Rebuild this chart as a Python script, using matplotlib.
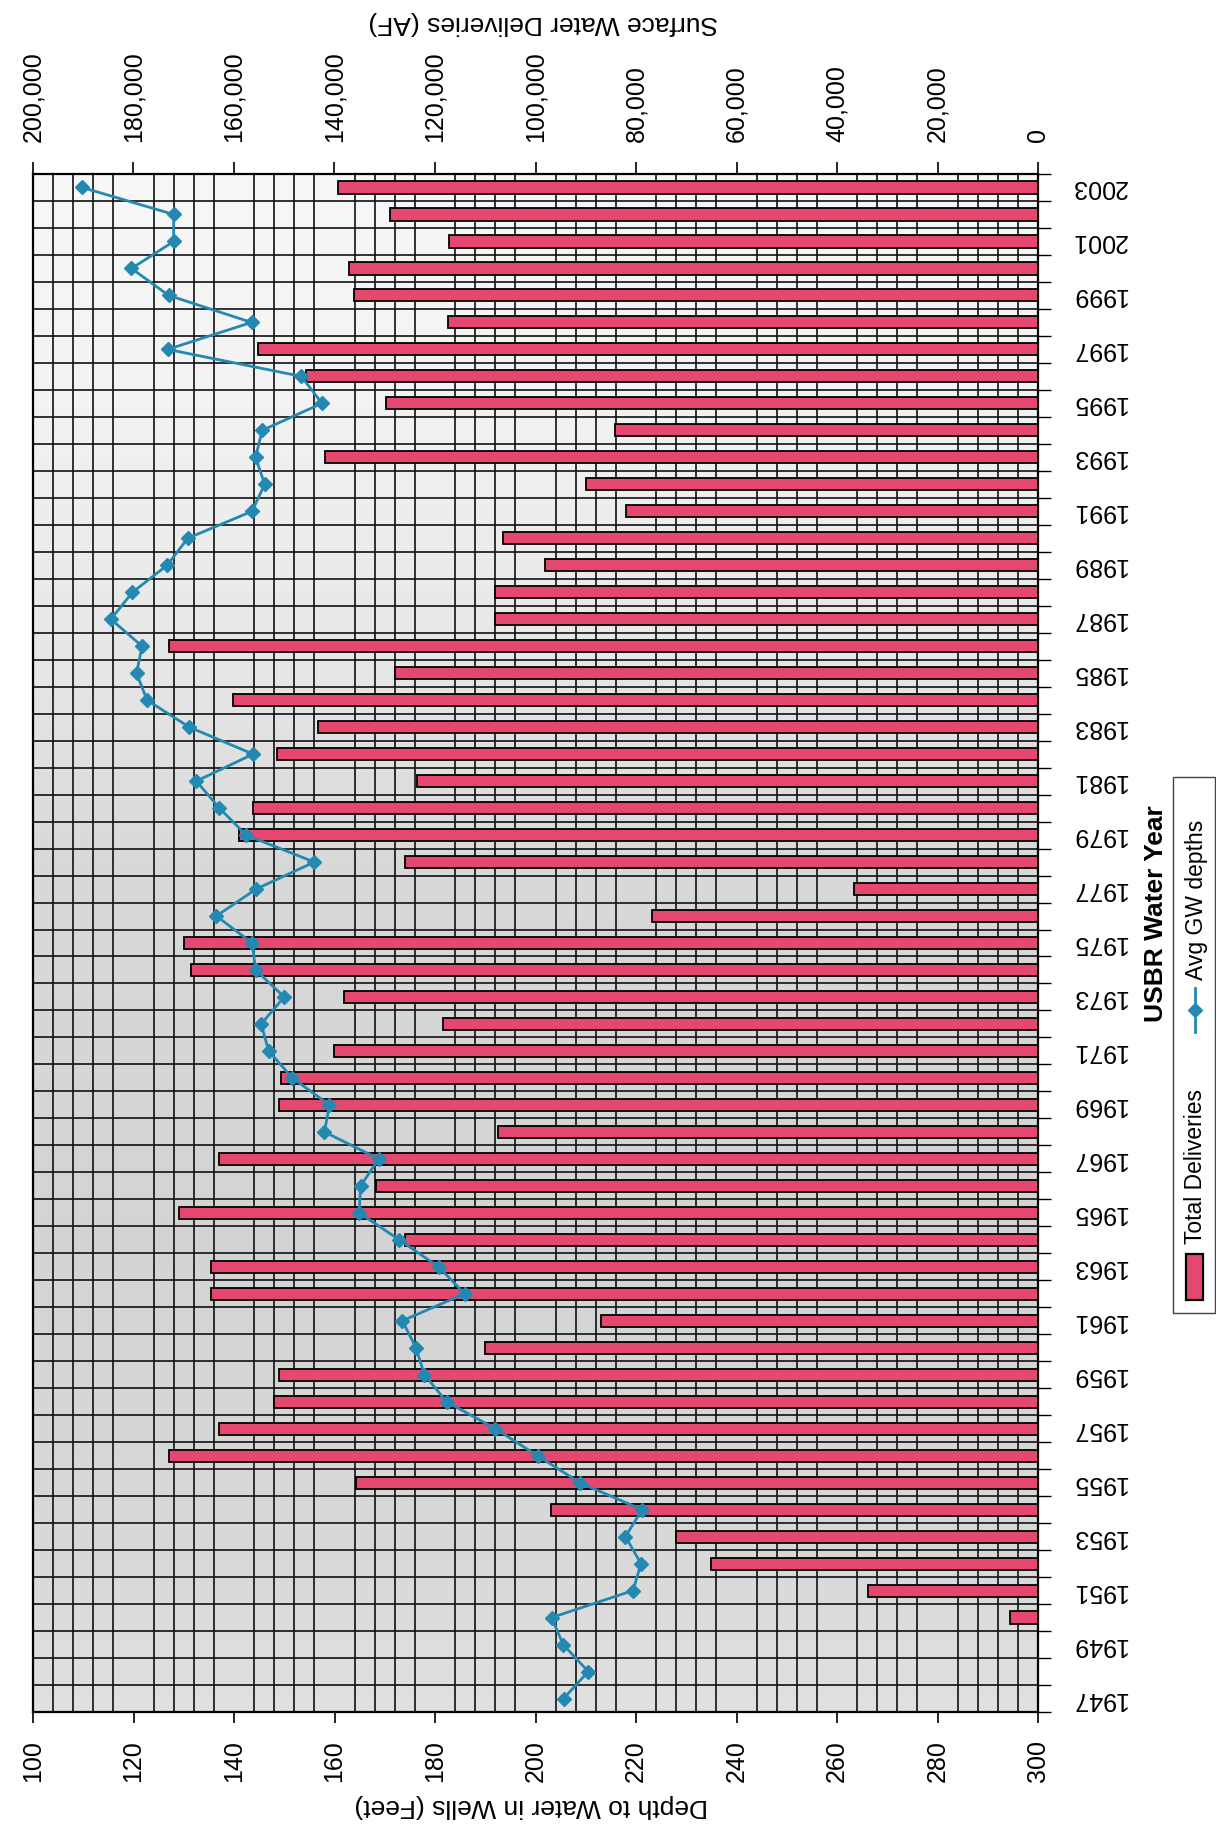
import matplotlib
matplotlib.use('Agg')
import matplotlib.pyplot as plt
import numpy as np
from matplotlib.patches import Rectangle
from matplotlib.lines import Line2D

plt.rcParams['font.family'] = ['Liberation Sans', 'DejaVu Sans']

# ---------------- data ----------------
years = list(range(1947, 2004))
nan = float('nan')
deliveries_af = [
    nan, nan, nan, 5600, 33800, 65000, 72000, 97000, 135800, 173000,      # 1947-1956
    163000, 152000, 151000, 110000, 87000, 164500, 164500, 126000, 171000, 131800,  # 1957-1966
    163000, 107500, 151000, 150700, 140000, 118500, 138200, 168500, 170000, 76800,  # 1967-1976
    36700, 126000, 159000, 156300, 123600, 151500, 143300, 160100, 128000, 173000,  # 1977-1986
    108000, 108100, 98100, 106500, 82000, 89900, 141800, 84200, 129800, 145600,     # 1987-1996
    155200, 117400, 136200, 137200, 117300, 129000, 139400                          # 1997-2003
]
gw_depth_ft = [
    205.6, 210.5, 205.5, 203.2, 219.4, 221.0, 217.9, 221.2, 208.8, 200.4,   # 1947-1956
    192.0, 182.3, 177.9, 176.2, 173.5, 185.9, 180.7, 172.9, 164.9, 165.2,   # 1957-1966
    168.8, 158.0, 159.0, 151.6, 146.9, 145.4, 150.0, 144.3, 143.6, 136.5,   # 1967-1976
    144.4, 156.0, 142.4, 137.1, 132.5, 143.8, 131.1, 122.7, 120.6, 121.7,   # 1977-1986
    115.5, 119.8, 126.7, 130.8, 143.6, 146.1, 144.3, 145.6, 157.5, 153.4,   # 1987-1996
    126.8, 143.5, 127.0, 119.6, 128.0, 128.0, 109.8                         # 1997-2003
]
delivery_ticks = list(range(0, 200001, 20000))
depth_ticks = list(range(100, 301, 20))
year_labels = list(range(1947, 2004, 2))

# ---------------- layout ----------------
W, H = 1216, 1836
fig = plt.figure(figsize=(W / 100, H / 100), dpi=100)
fig.patch.set_facecolor('white')

def fx(px):
    return px / W

def fy(py):
    return 1 - py / H

left, right, top, bottom = 33, 1038, 174, 1712
rect = [fx(left), fy(bottom), fx(right - left), (bottom - top) / H]

# background (scanned-paper shading: light at top, greyer in middle/lower part)
bgax = fig.add_axes(rect, zorder=0)
yy = np.linspace(0, 1, 200)
shade = np.interp(yy, [0.0, 0.1, 0.3, 0.55, 0.7, 0.85, 1.0],
                  [0.88, 0.85, 0.83, 0.85, 0.91, 0.95, 0.97])
bg = np.dstack([shade, shade, shade]).reshape(200, 1, 3)
bgax.imshow(bg, extent=[0, 1, 0, 1], origin='lower', aspect='auto',
            interpolation='bilinear')
bgax.set_xlim(0, 1)
bgax.set_ylim(0, 1)
bgax.axis('off')

ax = fig.add_axes(rect, zorder=1)
ax2 = ax.twiny()
ax.set_facecolor('none')

bar_color = '#e5476e'
line_color = '#2389b2'

ax.barh(years, deliveries_af, height=0.45, color=bar_color, edgecolor='black',
        linewidth=1.3, zorder=3)
ax.set_xlim(200000, 0)
ax.set_ylim(1946.5, 2003.5)

# top axis: deliveries
ax.xaxis.tick_top()
ax.xaxis.set_label_position('top')
ax.set_xticks(delivery_ticks)
ax.set_xticklabels([f'{v:,}' for v in delivery_ticks], rotation=90, fontsize=18)
ax.set_xticks(np.arange(0, 200001, 4000), minor=True)
ax.tick_params(axis='x', which='major', top=True, bottom=False, labeltop=True,
               labelbottom=False, length=9, width=1.2, pad=14, color='black')
ax.tick_params(axis='x', which='minor', length=0)

# right axis: years
ax.yaxis.tick_right()
ax.set_yticks(year_labels)
ax.set_yticklabels([str(y) for y in year_labels], rotation=180, fontsize=18, va='center')
ax.set_yticks(np.arange(1946.5, 2004, 1), minor=True)
ax.tick_params(axis='y', which='major', length=0, pad=24)
ax.tick_params(axis='y', which='minor', length=9, width=1.0, color='black')

ax.grid(which='minor', axis='both', color='#111111', linewidth=1.2, zorder=1)
ax.grid(which='major', axis='both', visible=False)
ax.set_axisbelow(True)
for s in ax.spines.values():
    s.set_color('black')
    s.set_linewidth(1.6)

# bottom axis: depth
ax2.set_xlim(100, 300)
ax2.xaxis.tick_bottom()
ax2.set_xticks(depth_ticks)
ax2.set_xticklabels([str(v) for v in depth_ticks], rotation=90, fontsize=18)
ax2.tick_params(axis='x', which='major', top=False, bottom=True, labeltop=False,
                labelbottom=True, length=8, width=1.2, pad=12)
ax2.plot(gw_depth_ft, years, color=line_color, linewidth=2.0, marker='D',
         markersize=7.5, markerfacecolor=line_color, markeredgecolor=line_color, zorder=5)
for s in ax2.spines.values():
    s.set_visible(False)

# axis titles (upside down as in scan)
fig.text(fx(543), fy(23), 'Surface Water Deliveries (AF)', rotation=180,
         ha='center', va='center', fontsize=19)
fig.text(fx(531), fy(1806), 'Depth to Water in Wells (Feet)', rotation=180,
         ha='center', va='center', fontsize=19)
fig.text(fx(1156), fy(914), 'USBR Water Year', rotation=90,
         ha='center', va='center', fontsize=19, fontweight='bold')

# legend (rotated, drawn manually)
fig.patches.append(Rectangle((fx(1173), fy(1313)), fx(42), (1313 - 777) / H,
                             transform=fig.transFigure, facecolor='white',
                             edgecolor='#444444', linewidth=1.0))
fig.patches.append(Rectangle((fx(1186), fy(1300)), fx(17), 46 / H,
                             transform=fig.transFigure, facecolor=bar_color,
                             edgecolor='black', linewidth=1.6))
fig.text(fx(1196), fy(1244), 'Total Deliveries', rotation=90, ha='center',
         va='bottom', fontsize=16.5)
fig.lines.append(Line2D([fx(1195), fx(1195)], [fy(1032), fy(988)],
                        transform=fig.transFigure, color=line_color, linewidth=2.0))
fig.lines.append(Line2D([fx(1195)], [fy(1010)], transform=fig.transFigure,
                        color=line_color, marker='D', markersize=7.5))
fig.text(fx(1196), fy(980), 'Avg GW depths', rotation=90, ha='center',
         va='bottom', fontsize=16.5)

fig.savefig('out.png', dpi=100)
